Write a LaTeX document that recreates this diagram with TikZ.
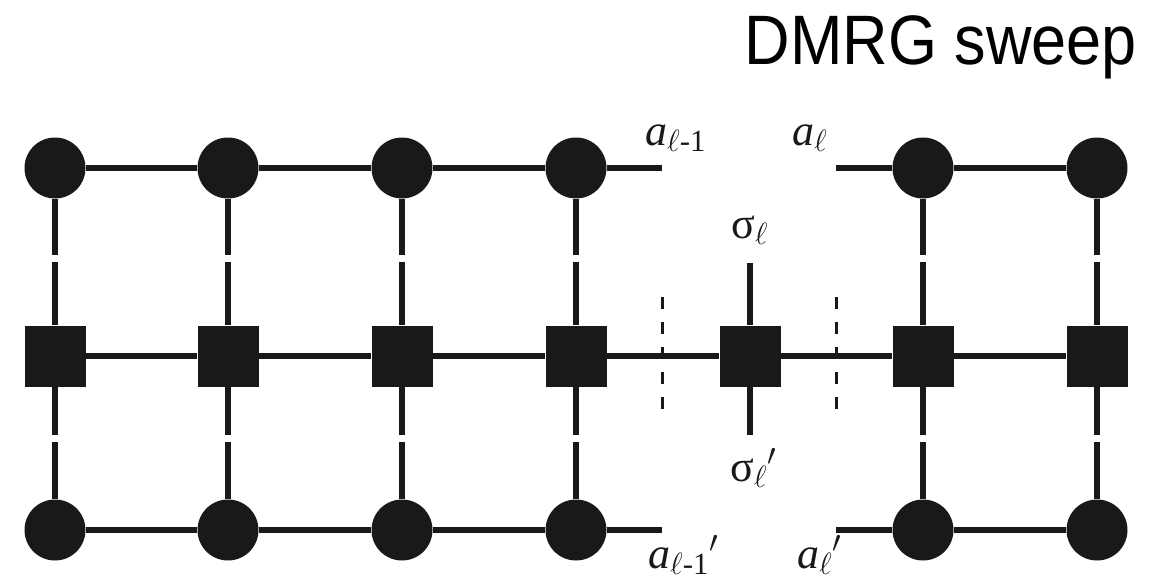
\documentclass[tikz,border=0pt]{standalone}
\usepackage{fix-cm}
\usepackage{amsmath}
\usepackage{fontspec}
\setmainfont{Liberation Serif}
\newfontfamily\headfont{Liberation Sans}
\usetikzlibrary{calc}

\begin{document}
\begin{tikzpicture}[x=1pt,y=-1pt,
  site/.style={circle,fill=black!90,minimum size=61pt,inner sep=0pt},
  op/.style={rectangle,fill=black!90,minimum size=61pt,inner sep=0pt},
  bond/.style={line width=6.5pt,black!90},
  cut/.style={line width=3pt,black!90,dash pattern=on 12pt off 13pt},
  lab/.style={font=\fontsize{44}{50}\selectfont,inner sep=0pt,anchor=base west,text=black!90}]
\useasboundingbox (0,0) rectangle (1165,578);

% title
\node[font=\headfont\fontsize{70}{80}\selectfont,anchor=base east,
      xscale=0.9,transform shape,inner sep=0pt] (title) at (1137,65) {DMRG sweep};

% MPS / MPO / MPS columns
\foreach \i/\x in {1/55,2/228,3/402,4/576,6/923,7/1097}{
  \node[site] (t\i) at (\x,168) {};
  \node[op]   (m\i) at (\x,356) {};
  \node[site] (b\i) at (\x,530) {};
}
\node[op] (m5) at (750,356) {};

% vertical bonds, each interrupted by a short gap
\foreach \i in {1,2,3,4,6,7}{
  \draw[bond] (t\i) -- ($(t\i)!0.463!(m\i)$);
  \draw[bond] ($(t\i)!0.5!(m\i)$) -- (m\i);
  \draw[bond] (m\i) -- ($(m\i)!0.454!(b\i)$);
  \draw[bond] ($(m\i)!0.494!(b\i)$) -- (b\i);
}

% horizontal bonds
\foreach \a/\b in {1/2,2/3,3/4,6/7}{
  \draw[bond] (t\a) -- (t\b);
  \draw[bond] (b\a) -- (b\b);
}
\foreach \a/\b in {1/2,2/3,3/4,4/5,5/6,6/7}{
  \draw[bond] (m\a) -- (m\b);
}

% open legs at the cut
\coordinate (tl) at (662,168);
\coordinate (tr) at (836,168);
\coordinate (bl) at (662,530);
\coordinate (br) at (836,530);
\draw[bond] (t4) -- (tl);
\draw[bond] (tr) -- (t6);
\draw[bond] (b4) -- (bl);
\draw[bond] (br) -- (b6);

% physical legs of the central operator
\coordinate (su) at (750,263);
\coordinate (sd) at (750,435);
\draw[bond] (su) -- (m5);
\draw[bond] (m5) -- (sd);

% dashed cut lines
\coordinate (cl1) at (662,297);
\coordinate (cl2) at (662,412);
\coordinate (cr1) at (836,297);
\coordinate (cr2) at (836,412);
\draw[cut] (cl1) -- (cl2);
\draw[cut] (cr1) -- (cr2);

% index labels
\node[lab] (alm) at (645,145) {\textit{a}$_{\ell\text{-1}}$};
\node[lab] (al)  at (792,145) {\textit{a}$_{\ell}$};
\node[lab] (sg)  at (731,238) {σ$_{\ell}$};
\node[lab] (sgp) at (730,481) {σ$_{\ell}{}^{\prime}$};
\node[lab] (blm) at (648,568) {\textit{a}$_{\ell\text{-1}}{}^{\prime}$};
\node[lab] (bl2) at (797,568) {\textit{a}$_{\ell}{}^{\prime}$};
\end{tikzpicture}
\end{document}
